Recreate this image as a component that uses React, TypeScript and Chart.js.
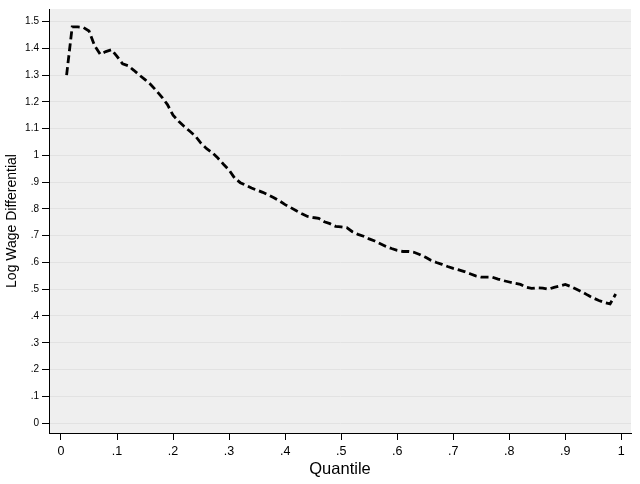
import React, { useEffect, useRef } from "react";
import { Chart, registerables } from "chart.js";

Chart.register(...registerables);

const quantiles = [
  0.01, 0.02, 0.03, 0.04, 0.05, 0.06, 0.07, 0.08, 0.09, 0.1,
  0.11, 0.12, 0.13, 0.14, 0.15, 0.16, 0.17, 0.18, 0.19, 0.2,
  0.21, 0.22, 0.23, 0.24, 0.25, 0.26, 0.27, 0.28, 0.29, 0.3,
  0.31, 0.32, 0.33, 0.34, 0.35, 0.36, 0.37, 0.38, 0.39, 0.4,
  0.41, 0.42, 0.43, 0.44, 0.45, 0.46, 0.47, 0.48, 0.49, 0.5,
  0.51, 0.52, 0.53, 0.54, 0.55, 0.56, 0.57, 0.58, 0.59, 0.6,
  0.61, 0.62, 0.63, 0.64, 0.65, 0.66, 0.67, 0.68, 0.69, 0.7,
  0.71, 0.72, 0.73, 0.74, 0.75, 0.76, 0.77, 0.78, 0.79, 0.8,
  0.81, 0.82, 0.83, 0.84, 0.85, 0.86, 0.87, 0.88, 0.89, 0.9,
  0.91, 0.92, 0.93, 0.94, 0.95, 0.96, 0.97, 0.98, 0.99,
];

const wageDiff = [
  1.3, 1.48, 1.48, 1.478, 1.465, 1.41, 1.378, 1.388, 1.395, 1.37,
  1.342, 1.335, 1.318, 1.3, 1.283, 1.265, 1.242, 1.218, 1.19, 1.15,
  1.128, 1.108, 1.09, 1.072, 1.045, 1.025, 1.01, 0.99, 0.967, 0.945,
  0.915, 0.898, 0.888, 0.878, 0.87, 0.862, 0.852, 0.842, 0.83, 0.816,
  0.805, 0.793, 0.782, 0.772, 0.768, 0.765, 0.752, 0.745, 0.735, 0.733,
  0.73, 0.715, 0.705, 0.698, 0.688, 0.68, 0.67, 0.66, 0.652, 0.645,
  0.641, 0.641, 0.638, 0.63, 0.62, 0.608, 0.6, 0.593, 0.585, 0.578,
  0.572, 0.566, 0.558, 0.55, 0.545, 0.545, 0.545, 0.538, 0.532, 0.527,
  0.522, 0.518, 0.508, 0.503, 0.505, 0.504, 0.5, 0.507, 0.512, 0.518,
  0.51, 0.5, 0.49, 0.478, 0.467, 0.458, 0.45, 0.445, 0.482,
];

const xTickValues = [0, 0.1, 0.2, 0.3, 0.4, 0.5, 0.6, 0.7, 0.8, 0.9, 1];
const xTickLabels = ["0", ".1", ".2", ".3", ".4", ".5", ".6", ".7", ".8", ".9", "1"];
const yTickValues = [0, 0.1, 0.2, 0.3, 0.4, 0.5, 0.6, 0.7, 0.8, 0.9, 1, 1.1, 1.2, 1.3, 1.4, 1.5];
const yTickLabels = ["0", ".1", ".2", ".3", ".4", ".5", ".6", ".7", ".8", ".9", "1", "1.1", "1.2", "1.3", "1.4", "1.5"];

const FONT = "'Liberation Sans', Arial, Helvetica, sans-serif";

export default function App() {
  const ref = useRef<HTMLCanvasElement>(null);

  useEffect(() => {
    document.body.style.margin = "0";
    if (!ref.current) return;
    const bgPlugin = {
      id: "plotBg",
      beforeDraw(chart: any) {
        const { ctx, chartArea } = chart;
        const { left, top, right, bottom } = chartArea;
        ctx.save();
        ctx.fillStyle = "#efefef";
        ctx.fillRect(left, top, right - left, bottom - top);
        ctx.restore();
      },
    };
    const chart = new Chart(ref.current, {
      type: "line",
      data: {
        datasets: [
          {
            data: quantiles.map((q, i) => ({ x: q, y: wageDiff[i] })),
            borderColor: "#000",
            borderWidth: 2.8,
            borderDash: [8, 4],
            pointRadius: 0,
            fill: false,
            tension: 0,
          },
        ],
      },
      options: {
        responsive: false,
        animation: false,
        layout: { padding: { left: 0, right: 9, top: 7, bottom: 0 } },
        plugins: { legend: { display: false }, tooltip: { enabled: false } },
        scales: {
          x: {
            type: "linear",
            position: "bottom",
            min: -0.0214,
            max: 1.0173,
            afterBuildTicks: (s: any) => {
              s.ticks = xTickValues.map((v) => ({ value: v }));
            },
            afterFit: (s: any) => {
              s.height = 51;
            },
            ticks: {
              autoSkip: false,
              maxRotation: 0,
              padding: 4,
              color: "#000",
              font: { size: 12.5, family: FONT },
              callback: (_v: any, i: number) => xTickLabels[i],
            },
            grid: {
              drawOnChartArea: false,
              tickLength: 7,
              tickColor: "#000",
              tickWidth: 1,
            },
            border: { display: true, color: "#000", width: 1 },
            title: {
              display: true,
              text: "Quantile",
              color: "#000",
              font: { size: 16.5, family: FONT },
              padding: { top: 0, bottom: 5 },
            },
          },
          y: {
            type: "linear",
            min: -0.0372,
            max: 1.547,
            afterBuildTicks: (s: any) => {
              s.ticks = yTickValues.map((v) => ({ value: v }));
            },
            afterFit: (s: any) => {
              s.width = 49;
            },
            ticks: {
              autoSkip: false,
              padding: 3,
              color: "#000",
              font: { size: 10, family: FONT },
              callback: (_v: any, i: number) => yTickLabels[i],
            },
            grid: {
              color: "#e2e2e2",
              lineWidth: 1,
              tickLength: 7,
              tickColor: "#000",
              tickWidth: 1,
            },
            border: { display: true, color: "#000", width: 1 },
            title: {
              display: true,
              text: "Log Wage Differential",
              color: "#000",
              font: { size: 14, family: FONT },
              padding: { top: 4, bottom: 0 },
            },
          },
        },
      },
      plugins: [bgPlugin],
    });
    return () => chart.destroy();
  }, []);

  return <canvas ref={ref} width={640} height={484} style={{ display: "block" }} />;
}
